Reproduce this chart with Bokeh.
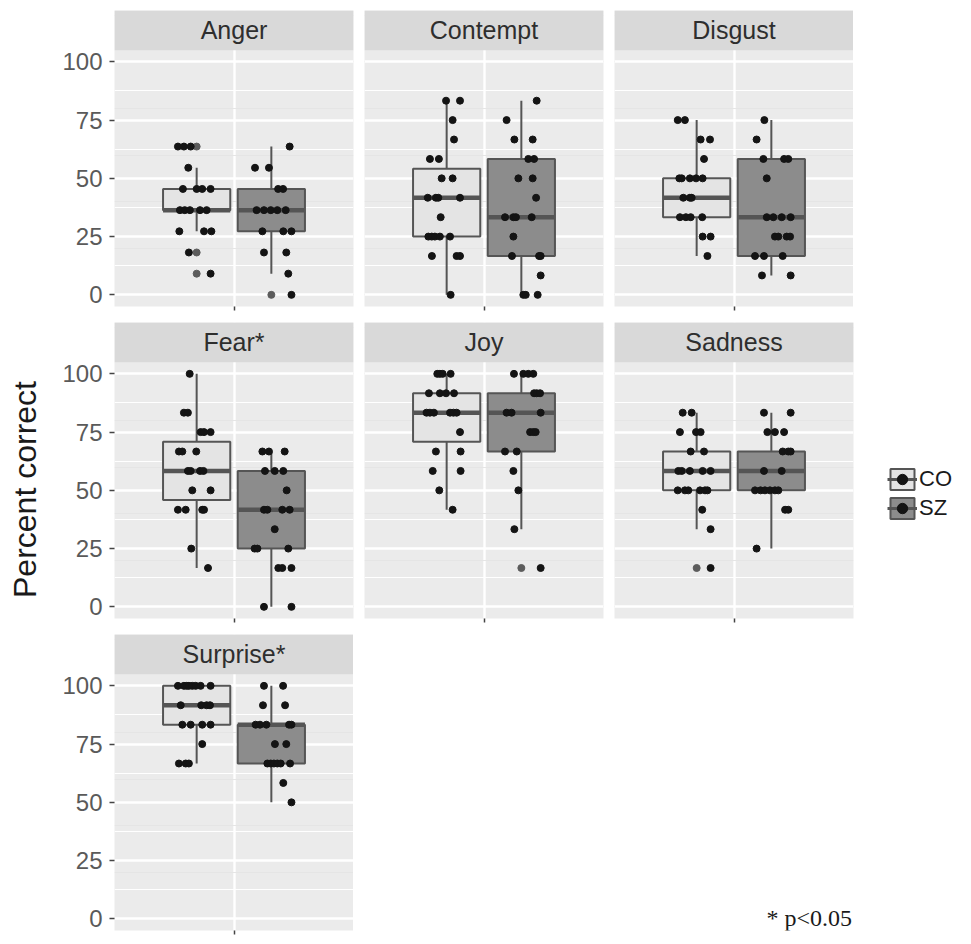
from math import pi
from bokeh.plotting import figure
from bokeh.layouts import row, column
from bokeh.models import (Range1d, FixedTicker, BoxAnnotation, Label, Legend,
                          LegendItem, Grid, LinearAxis)
from bokeh.core.properties import value
from bokeh.embed import file_html
from bokeh.resources import INLINE

NAN = float("nan")

# ---------------- data ----------------
emotions = ["Anger", "Contempt", "Disgust", "Fear*", "Joy", "Sadness", "Surprise*"]
groups = ["CO", "SZ"]

# box-plot statistics per emotion
co_lo = [27.27, 0, 16.67, 16.67, 41.67, 33.33, 66.67]
co_q1 = [36.36, 25, 33.33, 45.83, 70.83, 50, 83.33]
co_med = [36.36, 41.67, 41.67, 58.33, 83.33, 58.33, 91.67]
co_q3 = [45.45, 54.17, 50, 70.83, 91.67, 66.67, 100]
co_hi = [54.55, 83.33, 75, 100, 100, 83.33, 100]
sz_lo = [9.09, 0, 8.33, 0, 33.33, 25, 50]
sz_q1 = [27.27, 16.67, 16.67, 25, 66.67, 50, 66.67]
sz_med = [36.36, 33.33, 33.33, 41.67, 83.33, 58.33, 83.33]
sz_q3 = [45.45, 58.33, 58.33, 58.33, 91.67, 66.67, 83.33]
sz_hi = [63.64, 83.33, 75, 66.67, 100, 83.33, 100]
co_outliers = [[63.64, 18.18, 9.09], [], [], [], [], [16.67], []]
sz_outliers = [[0], [], [], [], [16.67], [], []]

# individual scores and their horizontal jitter
anger_co = [63.64, 63.64, 63.64, 54.55, 45.45, 45.45, 45.45, 45.45, 36.36, 36.36, 36.36,
            36.36, 36.36, 27.27, 27.27, 27.27, 18.18, 9.09]
anger_co_jit = [-0.094, -0.064, -0.030, -0.042, -0.069, 0.0, 0.028, 0.070, -0.084, -0.060,
                -0.034, 0.017, 0.050, -0.087, 0.037, 0.074, -0.039, 0.070]
anger_sz = [63.64, 54.55, 54.55, 45.45, 45.45, 36.36, 36.36, 36.36, 36.36, 36.36, 27.27,
            27.27, 27.27, 18.18, 18.18, 9.09, 0]
anger_sz_jit = [0.092, -0.082, -0.012, 0.034, 0.059, -0.074, -0.037, -0.003, 0.030, 0.072,
                -0.045, 0.060, 0.101, -0.037, 0.075, 0.085, 0.101]

contempt_co = [83.33, 83.33, 75, 66.67, 58.33, 58.33, 50, 50, 41.67, 41.67, 41.67, 41.67,
               33.33, 25, 25, 25, 25, 25, 16.67, 16.67, 16.67, 0]
contempt_co_jit = [-0.003, 0.067, 0.030, 0.037, -0.084, -0.039, -0.025, 0.030, -0.095,
                   -0.054, -0.042, 0.067, -0.030, -0.092, -0.075, -0.059, -0.034, 0.017,
                   -0.074, 0.050, 0.067, 0.020]
contempt_sz = [83.33, 75, 66.67, 66.67, 58.33, 58.33, 50, 50, 41.67, 33.33, 33.33, 33.33,
               33.33, 25, 16.67, 16.67, 16.67, 8.33, 0, 0, 0]
contempt_sz_jit = [0.077, -0.074, -0.035, 0.057, 0.035, 0.064, -0.015, 0.057, 0.074,
                   -0.082, -0.040, -0.027, 0.052, -0.040, -0.047, 0.089, 0.097, 0.097,
                   0.010, 0.022, 0.082]

disgust_co = [75, 75, 66.67, 66.67, 58.33, 50, 50, 50, 50, 50, 41.67, 41.67, 41.67, 33.33,
              33.33, 33.33, 33.33, 25, 25, 16.67]
disgust_co_jit = [-0.095, -0.059, 0.020, 0.067, 0.037, -0.087, -0.075, -0.034, -0.003,
                  0.030, -0.067, -0.034, -0.025, -0.084, -0.054, -0.030, 0.028, 0.030,
                  0.070, 0.054]
disgust_sz = [75, 66.67, 58.33, 58.33, 58.33, 50, 33.33, 33.33, 33.33, 33.33, 25, 25, 25,
              25, 16.67, 16.67, 16.67, 8.33, 8.33]
disgust_sz_jit = [-0.035, -0.074, -0.040, 0.064, 0.085, -0.023, -0.023, 0.010, 0.052,
                  0.097, 0.018, 0.035, 0.077, 0.094, -0.082, -0.037, 0.057, -0.047, 0.097]

fear_co = [100, 83.33, 83.33, 75, 75, 75, 66.67, 66.67, 66.67, 58.33, 58.33, 58.33, 58.33,
           50, 50, 41.67, 41.67, 41.67, 41.67, 25, 16.67]
fear_co_jit = [-0.035, -0.064, -0.044, 0.020, 0.037, 0.070, -0.089, -0.072, -0.002, -0.044,
               -0.030, 0.017, 0.034, -0.022, 0.070, -0.094, -0.055, 0.028, 0.037, -0.027,
               0.057]
fear_sz = [66.67, 66.67, 66.67, 58.33, 58.33, 58.33, 50, 41.67, 41.67, 41.67, 41.67, 33.33,
           25, 25, 25, 16.67, 16.67, 16.67, 0, 0]
fear_sz_jit = [-0.045, -0.012, 0.067, -0.032, 0.017, 0.060, 0.077, -0.037, -0.020, 0.055,
               0.092, 0.017, -0.084, -0.070, 0.085, 0.035, 0.055, 0.101, -0.037, 0.101]

joy_co = [100, 100, 100, 100, 91.67, 91.67, 91.67, 91.67, 83.33, 83.33, 83.33, 83.33, 83.33,
          83.33, 75, 66.67, 66.67, 58.33, 58.33, 50, 41.67]
joy_co_jit = [-0.047, -0.034, -0.020, 0.020, -0.089, -0.034, -0.003, 0.037, -0.101, -0.084,
              -0.064, 0.017, 0.034, 0.050, 0.067, -0.054, 0.070, -0.070, 0.070, -0.037, 0.030]
joy_sz = [100, 100, 100, 100, 91.67, 91.67, 91.67, 83.33, 83.33, 83.33, 75, 75, 75, 66.67,
          66.67, 58.33, 50, 33.33, 16.67]
joy_sz_jit = [-0.037, 0.010, 0.035, 0.060, 0.064, 0.077, 0.094, -0.074, -0.049, 0.097,
              0.044, 0.060, 0.072, -0.082, -0.023, -0.040, -0.015, -0.035, 0.097]

sadness_co = [83.33, 83.33, 75, 75, 75, 66.67, 66.67, 58.33, 58.33, 58.33, 58.33, 58.33, 50,
              50, 50, 50, 50, 50, 41.67, 33.33, 16.67]
sadness_co_jit = [-0.070, -0.025, -0.084, -0.003, 0.020, -0.030, 0.037, -0.092, -0.075,
                  -0.034, 0.030, 0.070, -0.095, -0.059, -0.042, 0.017, 0.042, 0.054, 0.028,
                  0.070, 0.070]
sadness_sz = [83.33, 83.33, 75, 75, 75, 66.67, 66.67, 66.67, 58.33, 58.33, 50, 50, 50, 50,
              50, 50, 41.67, 41.67, 25]
sadness_sz_jit = [-0.037, 0.097, -0.020, 0.018, 0.064, 0.057, 0.085, 0.097, -0.037, 0.052,
                  -0.082, -0.054, -0.032, -0.007, 0.018, 0.035, 0.069, 0.085, -0.074]

surprise_co = [100, 100, 100, 100, 100, 100, 100, 100, 91.67, 91.67, 91.67, 91.67, 83.33,
               83.33, 83.33, 83.33, 75, 66.67, 66.67, 66.67]
surprise_co_jit = [-0.094, -0.064, -0.050, -0.039, -0.022, -0.005, 0.020, 0.070, -0.080,
                   0.023, 0.050, 0.067, -0.072, -0.030, 0.028, 0.070, 0.028, -0.089, -0.055,
                   -0.039]
surprise_sz = [100, 100, 91.67, 91.67, 83.33, 83.33, 83.33, 83.33, 83.33, 75, 75, 66.67,
               66.67, 66.67, 66.67, 66.67, 66.67, 58.33, 50]
surprise_sz_jit = [-0.037, 0.059, -0.042, 0.069, -0.079, -0.057, -0.025, 0.089, 0.101,
                   0.018, 0.075, -0.020, -0.003, 0.013, 0.030, 0.047, 0.094, 0.060, 0.101]

y_ticks = [0, 25, 50, 75, 100]
y_minor = [12.5, 37.5, 62.5, 87.5]

# ---------------- styling ----------------
FONT = "Liberation Sans"
PANEL_BG = "#ebebeb"
STRIP_BG = "#d9d9d9"
EDGE = "#555555"
FILLS = {"CO": "#e4e4e4", "SZ": "#8c8c8c"}
PT = "#141414"
OUT = "#5c5c5c"
DODGE = 0.1875
BOX_W = 0.3375

scores = {
    "CO": [anger_co, contempt_co, disgust_co, fear_co, joy_co, sadness_co, surprise_co],
    "SZ": [anger_sz, contempt_sz, disgust_sz, fear_sz, joy_sz, sadness_sz, surprise_sz],
}
jitters = {
    "CO": [anger_co_jit, contempt_co_jit, disgust_co_jit, fear_co_jit, joy_co_jit,
           sadness_co_jit, surprise_co_jit],
    "SZ": [anger_sz_jit, contempt_sz_jit, disgust_sz_jit, fear_sz_jit, joy_sz_jit,
           sadness_sz_jit, surprise_sz_jit],
}
stats = {
    "CO": (co_lo, co_q1, co_med, co_q3, co_hi, co_outliers),
    "SZ": (sz_lo, sz_q1, sz_med, sz_q3, sz_hi, sz_outliers),
}


def make_panel(i, left_axis, right_border, top_border, bottom_border):
    p = figure(frame_width=239, frame_height=296,
               x_range=Range1d(0.4, 1.6), y_range=Range1d(-5, 122.04),
               output_backend="svg", toolbar_location=None, tools="",
               min_border_left=56 if left_axis else 0, min_border_right=right_border,
               min_border_top=top_border, min_border_bottom=bottom_border,
               y_axis_location=None,
               background_fill_color=PANEL_BG, border_fill_color="white",
               outline_line_color=None)
    # x axis: single centred category tick
    xt = FixedTicker(ticks=[1])
    p.xaxis.ticker = xt
    p.xaxis.axis_line_color = None
    p.xaxis.major_tick_line_color = "#444444"
    p.xaxis.major_tick_line_width = 1.5
    p.xaxis.major_tick_out = 4
    p.xaxis.major_tick_in = 0
    p.xaxis.minor_tick_line_color = None
    p.xaxis.major_label_text_font_size = "0px"
    p.xaxis.major_label_standoff = 0
    p.xaxis.major_label_overrides = {1: ""}
    p.xgrid.ticker = xt
    p.xgrid.grid_line_color = "white"
    p.xgrid.grid_line_width = 2.4

    yt = FixedTicker(ticks=y_ticks, minor_ticks=y_minor)
    p.add_layout(Grid(dimension=1, ticker=yt, grid_line_color="white",
                      grid_line_width=2.4, minor_grid_line_color="white",
                      minor_grid_line_width=1.2))
    if left_axis:
        ax = LinearAxis(ticker=yt)
        ax.axis_line_color = None
        ax.major_tick_line_color = "#444444"
        ax.major_tick_line_width = 1.5
        ax.major_tick_out = 5
        ax.major_tick_in = 0
        ax.minor_tick_line_color = None
        ax.major_label_text_font = FONT
        ax.major_label_text_font_size = "24px"
        ax.major_label_text_color = "#5a5a5a"
        ax.major_label_standoff = 7
        p.add_layout(ax, "left")

    for g, sign in (("CO", -1), ("SZ", 1)):
        c = 1 + sign * DODGE
        hw = BOX_W / 2
        lo, q1, med, q3, hi, outs = (s[i] for s in stats[g])
        p.segment(x0=[c, c], y0=[lo, q3], x1=[c, c], y1=[q1, hi],
                  line_color=EDGE, line_width=2)
        p.quad(left=[c - hw], right=[c + hw], bottom=[q1], top=[q3],
               fill_color=FILLS[g], line_color=EDGE, line_width=2)
        p.segment(x0=[c - hw], x1=[c + hw], y0=[med], y1=[med],
                  line_color=EDGE, line_width=4.5)
        if outs:
            p.scatter(x=[c] * len(outs), y=outs, size=7, fill_color=OUT, line_color=OUT)
        p.scatter(x=[c + j for j in jitters[g][i]], y=scores[g][i], size=7,
                  fill_color=PT, line_color=PT)

    # facet strip
    p.add_layout(BoxAnnotation(bottom=105, fill_color=STRIP_BG, fill_alpha=1.0,
                               line_color=None))
    p.add_layout(Label(x=1, y=113.5, text=emotions[i], text_align="center",
                       text_baseline="middle", text_font=FONT, text_font_size="25px",
                       text_color="#2e2e2e"))
    return p


def blank(w, h):
    p = figure(width=w, height=h, x_range=Range1d(0, w), y_range=Range1d(0, h),
               output_backend="svg", toolbar_location=None, tools="",
               min_border=0, x_axis_location=None, y_axis_location=None,
               outline_line_color=None, background_fill_color="white",
               border_fill_color="white")
    for r in p.center:
        r.visible = False
    return p


TOTAL_H = 939

# y-axis title
title_fig = blank(58, TOTAL_H)
title_fig.text(x=[24], y=[TOTAL_H - 489], text=["Percent correct"], angle=pi / 2,
               text_align="center", text_baseline="middle", text_font=value(FONT),
               text_font_size="32px", text_color="#1a1a1a")

f1 = make_panel(0, True, 11, 10, 14)
f2 = make_panel(1, False, 11, 10, 14)
f3 = make_panel(2, False, 0, 10, 14)
f4 = make_panel(3, True, 11, 2, 14)
f5 = make_panel(4, False, 11, 2, 14)
f6 = make_panel(5, False, 11, 2, 14)
f7 = make_panel(6, True, 0, 2, 9)

# legend
leg_fig = blank(91, 312)
items = []
for g in groups:
    q = leg_fig.quad(left=[NAN], right=[NAN], bottom=[NAN], top=[NAN], fill_color=FILLS[g],
                     line_color=EDGE, line_width=2)
    ln = leg_fig.line(x=[NAN], y=[NAN], line_color=EDGE, line_width=3)
    d = leg_fig.scatter(x=[NAN], y=[NAN], size=7, fill_color=PT, line_color=PT)
    items.append(LegendItem(label=g, renderers=[q, ln, d]))
legend = Legend(items=items, location=(23, 97), glyph_width=30, glyph_height=26,
                label_height=26, spacing=3, padding=0, margin=0,
                border_line_color=None, background_fill_alpha=0,
                label_text_font=FONT, label_text_font_size="22px",
                label_text_color="#1a1a1a", label_standoff=2)
leg_fig.add_layout(legend)

# footnote
note_fig = blank(591, 307)
note_fig.text(x=[413], y=[13], text=["* p<0.05"], text_align="left",
              text_baseline="alphabetic", text_font=value("Liberation Serif"),
              text_font_size="24px", text_color="#1a1a1a")

grid = column(row(f1, f2, f3), row(f4, f5, f6, leg_fig), row(f7, note_fig))
layout = row(title_fig, grid)

open("out.html", "w").write(file_html(layout, INLINE))
